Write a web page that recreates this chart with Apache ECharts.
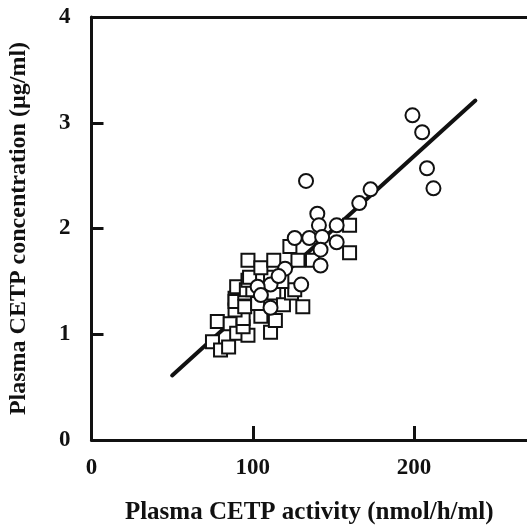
<!DOCTYPE html>
<html>
<head>
<meta charset="utf-8">
<script src="https://cdn.jsdelivr.net/npm/echarts@6/dist/echarts.min.js"></script>
<style>
html,body{margin:0;padding:0;background:#fff;}
#c{width:527px;height:525px;}
</style>
</head>
<body>
<div id="c"></div>
<script>
// Data
const squares = [
  [75,0.93],[80,0.85],[85,0.88],[78,1.12],[86,1.10],[90,1.01],[97,0.99],[94,1.07],
  [94,1.15],[89,1.23],[89,1.34],[89,1.31],[95,1.26],[105,1.17],[111,1.02],[114,1.13],
  [95,1.39],[90,1.45],[96,1.42],[100,1.42],[103,1.29],[108,1.43],[113,1.39],[119,1.28],
  [131,1.26],[124,1.39],[126,1.42],[118,1.50],[97,1.51],[98,1.54],[111,1.54],[97,1.70],
  [105,1.63],[113,1.70],[123,1.83],[128,1.70],[137,1.70],[160,2.03],[160,1.77]
];
const circles = [
  [199,3.07],[205,2.91],[208,2.57],[212,2.38],[133,2.45],[166,2.24],[173,2.37],
  [140,2.14],[141,2.03],[152,2.03],[126,1.91],[135,1.91],[143,1.92],[152,1.87],
  [142,1.80],[142,1.65],[120,1.62],[130,1.47],[111,1.47],[103,1.45],[111,1.25],
  [105,1.37],[116,1.55]
];
const regressionLine = [[50,0.61],[238,3.21]];
const xTickLabels = [0,100,200];
const yTickLabels = [0,1,2,3,4];
const xTitle = 'Plasma CETP activity (nmol/h/ml)';
const yTitle = 'Plasma CETP concentration (µg/ml)';

const FONT = '"Liberation Serif", "Times New Roman", serif';
const chart = echarts.init(document.getElementById('c'));
chart.setOption({
  backgroundColor: '#fff',
  animation: false,
  grid: {left: 91.5, right: 0, top: 17, bottom: 85, containLabel: false, outerBoundsMode: 'none'},
  xAxis: [{
    type: 'value', min: 0, max: 270, position: 'bottom',
    name: xTitle, nameLocation: 'middle', nameGap: 60,
    nameTextStyle: {fontFamily: FONT, fontWeight: 'bold', fontSize: 25, color: '#111'},
    axisLine: {show: true, onZero: false, lineStyle: {color: '#111', width: 3}},
    axisTick: {show: true, inside: true, length: 14, lineStyle: {color: '#111', width: 3}, customValues: [100,200]},
    axisLabel: {customValues: xTickLabels, margin: 17, fontFamily: FONT, fontWeight: 'bold', fontSize: 23, color: '#111'},
    splitLine: {show: false}
  }, {
    type: 'value', min: 0, max: 270, position: 'top',
    axisLine: {show: true, onZero: false, lineStyle: {color: '#111', width: 3}},
    axisTick: {show: false}, axisLabel: {show: false}, splitLine: {show: false}
  }],
  yAxis: {
    type: 'value', min: 0, max: 4, interval: 1,
    name: yTitle, nameLocation: 'middle', nameGap: 61, nameRotate: 90,
    nameTextStyle: {fontFamily: FONT, fontWeight: 'bold', fontSize: 24, color: '#111'},
    axisLine: {show: true, onZero: false, lineStyle: {color: '#111', width: 3}},
    axisTick: {show: true, inside: true, length: 12, lineStyle: {color: '#111', width: 3}, customValues: [1,2,3]},
    axisLabel: {customValues: yTickLabels, margin: 21, fontFamily: FONT, fontWeight: 'bold', fontSize: 23, color: '#111'},
    splitLine: {show: false}
  },
  series: [{
    type: 'line', data: regressionLine, symbol: 'none', z: 1,
    lineStyle: {color: '#111', width: 4, cap: 'round'}
  }, {
    type: 'scatter', data: squares, symbol: 'rect', symbolSize: 13, z: 2,
    itemStyle: {color: '#fff', borderColor: '#111', borderWidth: 2, opacity: 1}
  }, {
    type: 'scatter', data: circles, symbol: 'circle', symbolSize: 14, z: 3,
    itemStyle: {color: '#fff', borderColor: '#111', borderWidth: 2, opacity: 1}
  }]
});
</script>
</body>
</html>
